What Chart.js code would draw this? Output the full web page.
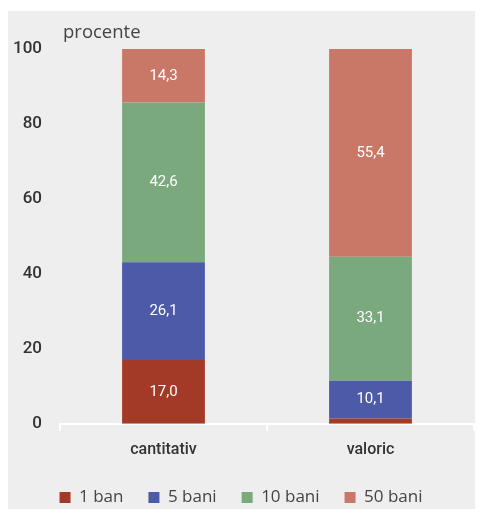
<!DOCTYPE html>
<html>
<head>
<meta charset="utf-8">
<script src="https://cdn.jsdelivr.net/npm/chart.js@4"></script>
<style>
  body { margin: 0; background: #fff; }
  #panel { position: absolute; left: 8px; top: 11px; width: 467px; height: 498px; background: #eeeeee; }
  #wrap { position: absolute; left: 0; top: 0; width: 477px; height: 509px; }
</style>
</head>
<body>
<div id="panel"></div>
<div id="wrap"><canvas id="myChart" width="477" height="509"></canvas></div>
<script>
// categories and series (procente)
var labels = ['cantitativ', 'valoric'];
var seriesNames = ['1 ban', '5 bani', '10 bani', '50 bani'];
var ban1 = [17.0, 1.4];
var bani5 = [26.1, 10.1];
var bani10 = [42.6, 33.1];
var bani50 = [14.3, 55.4];
var yTicks = [0, 20, 40, 60, 80, 100];
var colors = ['#a23a27', '#4d5aa7', '#7aa97e', '#c97867'];

var tickFont = 'Roboto, sans-serif';

// white numbers inside the bars
var valueLabels = {
  id: 'valueLabels',
  afterDatasetsDraw: function(chart) {
    var ctx = chart.ctx;
    ctx.save();
    ctx.fillStyle = '#ffffff';
    ctx.font = '15px ' + tickFont;
    ctx.textAlign = 'center';
    ctx.textBaseline = 'middle';
    chart.data.datasets.forEach(function(ds, i) {
      chart.getDatasetMeta(i).data.forEach(function(bar, j) {
        var v = ds.data[j];
        if (v < 5) return;
        var y = (bar.y + bar.base) / 2;
        ctx.fillText(v.toFixed(1).replace('.', ','), bar.x, y);
      });
    });
    ctx.restore();
  }
};

// unit label over the y axis
var unitLabel = {
  id: 'unitLabel',
  afterDraw: function(chart) {
    var ctx = chart.ctx;
    ctx.save();
    ctx.fillStyle = '#444';
    ctx.font = '18.5px "Open Sans", sans-serif';
    ctx.textAlign = 'left';
    ctx.textBaseline = 'middle';
    ctx.fillText('procente', 63, 33);
    ctx.restore();
  }
};

const data = {
  labels: labels,
  datasets: [
    { label: seriesNames[0], data: ban1, backgroundColor: colors[0] },
    { label: seriesNames[1], data: bani5, backgroundColor: colors[1] },
    { label: seriesNames[2], data: bani10, backgroundColor: colors[2] },
    { label: seriesNames[3], data: bani50, backgroundColor: colors[3] }
  ]
};

const config = {
  type: 'bar',
  data: data,
  options: {
    responsive: false,
    animation: false,
    datasets: { bar: { categoryPercentage: 0.4, barPercentage: 1.0, borderWidth: 0 } },
    layout: { padding: { left: 8, right: 3, top: 49, bottom: -7 } },
    scales: {
      x: {
        stacked: true,
        afterFit: function(scale) { scale.height -= 6; },
        border: { display: true, color: '#ffffff', width: 2 },
        grid: { display: true, drawOnChartArea: false, drawTicks: true, tickLength: 7, color: '#ffffff', lineWidth: 2, offset: true },
        ticks: { color: '#333', font: { family: tickFont, size: 16, weight: '500' }, padding: 10 }
      },
      y: {
        stacked: true,
        min: 0,
        max: 100,
        afterFit: function(scale) { scale.width = 52; },
        afterBuildTicks: function(scale) { scale.ticks = yTicks.map(function(v) { return { value: v }; }); },
        border: { display: false },
        grid: { display: false, drawTicks: false },
        ticks: { color: '#333', font: { family: tickFont, size: 17, weight: '500' }, padding: 18 }
      }
    },
    plugins: {
      legend: {
        position: 'bottom',
        align: 'center',
        labels: {
          color: '#444',
          font: { family: '"Open Sans", sans-serif', size: 17 },
          boxWidth: 11,
          boxHeight: 11,
          padding: 25
        }
      },
      tooltip: { enabled: false }
    }
  },
  plugins: [valueLabels, unitLabel]
};

const myChart = new Chart(document.getElementById('myChart'), config);
</script>
</body>
</html>
